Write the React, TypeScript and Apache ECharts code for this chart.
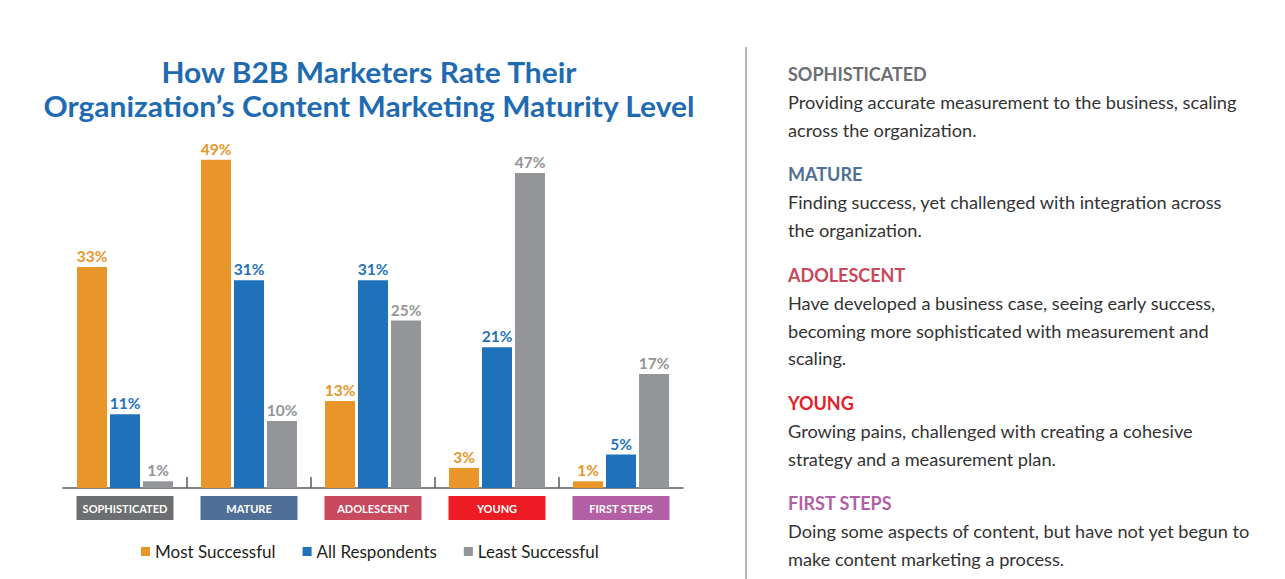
import React, { useEffect, useRef } from "react";
import * as echarts from "echarts";

const categories = ["SOPHISTICATED", "MATURE", "ADOLESCENT", "YOUNG", "FIRST STEPS"];
const categoryColors = ["#6d6e71", "#4f6f98", "#c9495e", "#ed1c24", "#b35fa6"];
const mostSuccessful = [33, 49, 13, 3, 1];
const allRespondents = [11, 31, 31, 21, 5];
const leastSuccessful = [1, 10, 25, 47, 17];
const seriesNames = ["Most Successful", "All Respondents", "Least Successful"];
const seriesColors = ["#e8962a", "#1f72ba", "#939598"];
const separatorIdx = [1, 2, 3, 4];

const titleLines = ["How B2B Marketers Rate Their", "Organization\u2019s Content Marketing Maturity Level"];

const descHeaders = ["SOPHISTICATED", "MATURE", "ADOLESCENT", "YOUNG", "FIRST STEPS"];
const descHeaderColors = ["#6d6e71", "#4f6f98", "#c9485b", "#e3212b", "#b35fa4"];
const descBodies = [
  ["Providing accurate measurement to the business, scaling", "across the organization."],
  ["Finding success, yet challenged with integration across", "the organization."],
  ["Have developed a business case, seeing early success,", "becoming more sophisticated with measurement and", "scaling."],
  ["Growing pains, challenged with creating a cohesive", "strategy and a measurement plan."],
  ["Doing some aspects of content, but have not yet begun to", "make content marketing a process."],
];
const descHeaderY = [74, 174, 275, 403, 503];

const FONT = "Lato";

export default function App() {
  const ref = useRef<HTMLDivElement>(null);
  useEffect(() => {
    if (!ref.current) return;
    const chart = echarts.init(ref.current, null, { renderer: "svg" });

    const rich: any = {};
    categoryColors.forEach((c, i) => {
      rich["s" + i] = {
        backgroundColor: c,
        color: "#ffffff",
        fontWeight: "bold",
        fontSize: 11,
        fontFamily: FONT,
        width: 97,
        height: 24,
        lineHeight: 24,
        align: "center",
      };
    });

    const graphics: any[] = [
      {
        type: "line",
        shape: { x1: 746, y1: 47, x2: 746, y2: 579 },
        style: { stroke: "#6d6e71", lineWidth: 1 },
      },
    ];
    titleLines.forEach((t, i) => {
      graphics.push({
        type: "text",
        x: 369,
        y: 72 + i * 34,
        scaleX: 1.07,
        style: {
          text: t,
          fill: "#1f6bb1",
          font: `bold 28px ${FONT}`,
          textAlign: "center",
          textVerticalAlign: "middle",
        },
      });
    });
    descHeaders.forEach((h, i) => {
      graphics.push({
        type: "text",
        x: 788,
        y: descHeaderY[i],
        style: {
          text: h,
          fill: descHeaderColors[i],
          font: `bold 18px ${FONT}`,
          textAlign: "left",
          textVerticalAlign: "middle",
        },
      });
      descBodies[i].forEach((line, j) => {
        graphics.push({
          type: "text",
          x: 788,
          y: descHeaderY[i] + 28 + j * 27.5,
          style: {
            text: line,
            fill: "#333333",
            font: `18.2px ${FONT}`,
            textAlign: "left",
            textVerticalAlign: "middle",
          },
        });
      });
    });

    const values = [mostSuccessful, allRespondents, leastSuccessful];
    const barSeries = values.map((v, i) => ({
      name: seriesNames[i],
      type: "bar",
      data: v,
      barWidth: 30,
      barGap: "10%",
      itemStyle: { color: seriesColors[i] },
      label: {
        show: true,
        position: "top",
        distance: 3,
        formatter: "{c}%",
        color: seriesColors[i],
        fontWeight: "bold",
        fontSize: 15.5,
        fontFamily: FONT,
      },
    }));

    chart.setOption({
      animation: false,
      grid: { left: 63, right: 602, top: 153, bottom: 91 },
      legend: {
        data: seriesNames.map((n) => ({ name: n, icon: "rect" })),
        left: 136,
        top: 538,
        itemWidth: 9,
        itemHeight: 9,
        itemGap: 27,
        textStyle: { fontSize: 17, color: "#231f20", fontFamily: FONT },
      },
      xAxis: {
        type: "category",
        data: categories,
        axisLine: { lineStyle: { color: "#58595b", width: 1.5 } },
        axisTick: { show: false },
        axisLabel: {
          margin: 8,
          interval: 0,
          formatter: (value: string, index: number) => `{s${index}|${value}}`,
          rich,
        },
      },
      yAxis: { type: "value", min: 0, max: 50, show: false },
      series: [
        ...barSeries,
        {
          name: "separators",
          type: "custom",
          silent: true,
          data: separatorIdx.map((i) => [i, 0]),
          renderItem: (params: any, api: any) => {
            const p = api.coord([api.value(0), 0]);
            const w = api.size([1, 0])[0];
            const x = p[0] - w / 2;
            return {
              type: "line",
              shape: { x1: x, y1: p[1], x2: x, y2: p[1] - 11 },
              style: { stroke: "#58595b", lineWidth: 1.5 },
            };
          },
        },
      ],
      graphic: graphics,
    });
    return () => chart.dispose();
  }, []);
  return (
    <div
      ref={ref}
      style={{ position: "absolute", left: 0, top: 0, width: 1285, height: 579, background: "#fff" }}
    />
  );
}
